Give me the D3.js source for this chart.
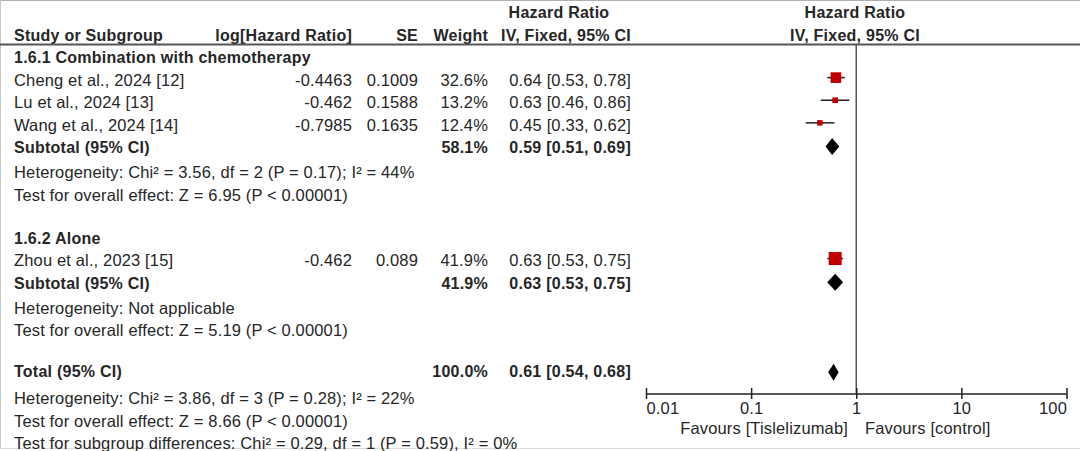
<!DOCTYPE html>
<html><head><meta charset="utf-8">
<script src="https://cdn.jsdelivr.net/npm/d3@7"></script>
<style>
html,body{margin:0;padding:0;background:#fff;}
svg{display:block;font-family:"Liberation Sans",Arial,sans-serif;}
</style></head>
<body><svg id="chart" width="1080" height="451"></svg>
<script>
// ---- data ----
const subgroups = ["1.6.1 Combination with chemotherapy", "1.6.2 Alone"];
const studies = ["Cheng et al., 2024 [12]", "Lu et al., 2024 [13]", "Wang et al., 2024 [14]", "Zhou et al., 2023 [15]"];
const studyGroup = [0, 0, 0, 1];
const logHR = ["-0.4463", "-0.462", "-0.7985", "-0.462"];
const seVals = ["0.1009", "0.1588", "0.1635", "0.089"];
const weights = [32.6, 13.2, 12.4, 41.9];
const hr = [0.64, 0.63, 0.45, 0.63];
const hrLow = [0.53, 0.46, 0.33, 0.53];
const hrHigh = [0.78, 0.86, 0.62, 0.75];
const subWeights = [58.1, 41.9];
const subHR = [0.59, 0.63];
const subLow = [0.51, 0.53];
const subHigh = [0.69, 0.75];
const subHet = ["Heterogeneity: Chi\u00b2 = 3.56, df = 2 (P = 0.17); I\u00b2 = 44%", "Heterogeneity: Not applicable"];
const subEffect = ["Test for overall effect: Z = 6.95 (P < 0.00001)", "Test for overall effect: Z = 5.19 (P < 0.00001)"];
const totalWeight = 100.0, totalHR = 0.61, totalLow = 0.54, totalHigh = 0.68;
const totalNotes = ["Heterogeneity: Chi\u00b2 = 3.86, df = 3 (P = 0.28); I\u00b2 = 22%",
  "Test for overall effect: Z = 8.66 (P < 0.00001)",
  "Test for subgroup differences: Chi\u00b2 = 0.29, df = 1 (P = 0.59), I\u00b2 = 0%"];
const axisTicks = [0.01, 0.1, 1, 10, 100];
const favours = ["Favours [Tislelizumab]", "Favours [control]"];

// ---- build rows ----
const rows = [];
subgroups.forEach((g, gi) => {
  rows.push({type: "group", label: g});
  studies.forEach((s, i) => {
    if (studyGroup[i] === gi) rows.push({type: "study", i});
  });
  rows.push({type: "subtotal", gi});
  rows.push({type: "note", label: subHet[gi]});
  rows.push({type: "note", label: subEffect[gi]});
  rows.push({type: "blank"});
});
rows.push({type: "total"});
totalNotes.forEach(t => rows.push({type: "note", label: t}));

const svg = d3.select("#chart");
const W = 1080, H = 451;
const txt = "#262626";
const fsReg = 16.5, lsReg = 0.15;
const fsBold = 16, lsBold = 0.25;

// frame
svg.append("line").attr("x1", 0).attr("x2", W).attr("y1", 0.5).attr("y2", 0.5).attr("stroke", "#b0b0b0");
svg.append("line").attr("x1", 0.5).attr("x2", 0.5).attr("y1", 0).attr("y2", 449).attr("stroke", "#c8c8c8");
svg.append("line").attr("x1", 0).attr("x2", W).attr("y1", 448.5).attr("y2", 448.5).attr("stroke", "#dcdcdc");

const yRow = d3.scaleLinear().domain([0, rows.length - 1]).range([57, 441.5]);
const x = d3.scaleLog().domain([0.01, 100]).range([646, 1066.5]);
const sizeScale = d3.scaleLinear().domain([12.4, 41.9]).range([5.5, 13]);
const fmt2 = d3.format(".2f"), fmt1 = d3.format(".1f");
const ciText = (m, l, h) => `${fmt2(m)} [${fmt2(l)}, ${fmt2(h)}]`;

function text(xp, yp, s, opts = {}) {
  const t = svg.append("text").attr("x", xp).attr("y", yp).attr("dy", "0.36em")
    .attr("font-size", opts.bold ? fsBold : fsReg)
    .attr("letter-spacing", opts.bold ? lsBold : lsReg)
    .attr("font-weight", opts.bold ? "bold" : "normal")
    .attr("text-anchor", opts.anchor || "start").attr("fill", opts.fill || txt).text(s);
  return t;
}

// headers
text(559, 12, "Hazard Ratio", {bold: true, anchor: "middle"});
text(855, 12, "Hazard Ratio", {bold: true, anchor: "middle"});
text(14, 35, "Study or Subgroup", {bold: true});
text(352, 35, "log[Hazard Ratio]", {bold: true, anchor: "end"});
text(418, 35, "SE", {bold: true, anchor: "end"});
text(488, 35, "Weight", {bold: true, anchor: "end"});
text(631, 35, "IV, Fixed, 95% CI", {bold: true, anchor: "end"});
text(855, 35, "IV, Fixed, 95% CI", {bold: true, anchor: "middle"});
svg.append("line").attr("x1", 0).attr("x2", W).attr("y1", 44.5).attr("y2", 44.5)
  .attr("stroke", "#555").attr("stroke-width", 2);

// null line
svg.append("line").attr("x1", x(1)).attr("x2", x(1)).attr("y1", 45).attr("y2", 393.5)
  .attr("stroke", "#555").attr("stroke-width", 1.5);

function diamond(yc, m, l, h) {
  const hh = 8.5;
  svg.append("path")
    .attr("d", `M${x(l)},${yc} L${x(m)},${yc - hh} L${x(h)},${yc} L${x(m)},${yc + hh} Z`)
    .attr("fill", "#000");
}

rows.forEach((r, k) => {
  const y = yRow(k);
  if (r.type === "group") {
    text(14, y, r.label, {bold: true});
  } else if (r.type === "study") {
    const i = r.i;
    text(14, y, studies[i]);
    text(352, y, logHR[i], {anchor: "end"});
    text(418, y, seVals[i], {anchor: "end"});
    text(488, y, fmt1(weights[i]) + "%", {anchor: "end"});
    text(631, y, ciText(hr[i], hrLow[i], hrHigh[i]), {anchor: "end"});
    const yc = y - 2;
    svg.append("line").attr("x1", x(hrLow[i])).attr("x2", x(hrHigh[i])).attr("y1", yc).attr("y2", yc)
      .attr("stroke", "#222").attr("stroke-width", 1.5);
    const s = sizeScale(weights[i]);
    svg.append("rect").attr("x", x(hr[i]) - s / 2).attr("y", yc - s / 2).attr("width", s).attr("height", s)
      .attr("fill", "#c00000");
  } else if (r.type === "subtotal") {
    const gi = r.gi;
    text(14, y, "Subtotal (95% CI)", {bold: true});
    text(488, y, fmt1(subWeights[gi]) + "%", {bold: true, anchor: "end"});
    text(631, y, ciText(subHR[gi], subLow[gi], subHigh[gi]), {bold: true, anchor: "end"});
    diamond(y - 1, subHR[gi], subLow[gi], subHigh[gi]);
  } else if (r.type === "note") {
    text(14, y + 2, r.label);
  } else if (r.type === "total") {
    text(14, y - 2, "Total (95% CI)", {bold: true});
    text(488, y - 2, fmt1(totalWeight) + "%", {bold: true, anchor: "end"});
    text(631, y - 2, ciText(totalHR, totalLow, totalHigh), {bold: true, anchor: "end"});
    diamond(y - 1.5, totalHR, totalLow, totalHigh);
  }
});

// axis
const axis = d3.axisBottom(x).tickValues(axisTicks).tickSizeInner(5.5).tickSizeOuter(0)
  .tickFormat(d => d >= 1 ? d3.format("d")(d) : String(d));
const ag = svg.append("g").attr("transform", "translate(0,393.5)").call(axis);
ag.select(".domain").attr("stroke", "#222").attr("stroke-width", 1.5);
ag.selectAll(".tick line").attr("y1", -5.5).attr("y2", 5.5).attr("stroke", "#222").attr("stroke-width", 1.5);
ag.selectAll(".tick text").attr("y", 9).attr("dy", "0.71em").attr("font-size", fsReg)
  .attr("letter-spacing", lsReg)
  .attr("font-family", "'Liberation Sans',Arial,sans-serif").attr("fill", txt)
  .attr("text-anchor", (d, i) => i === 0 ? "start" : (i === axisTicks.length - 1 ? "end" : "middle"));
text(848, 428, favours[0], {anchor: "end"});
text(865, 428, favours[1]);
</script></body></html>
